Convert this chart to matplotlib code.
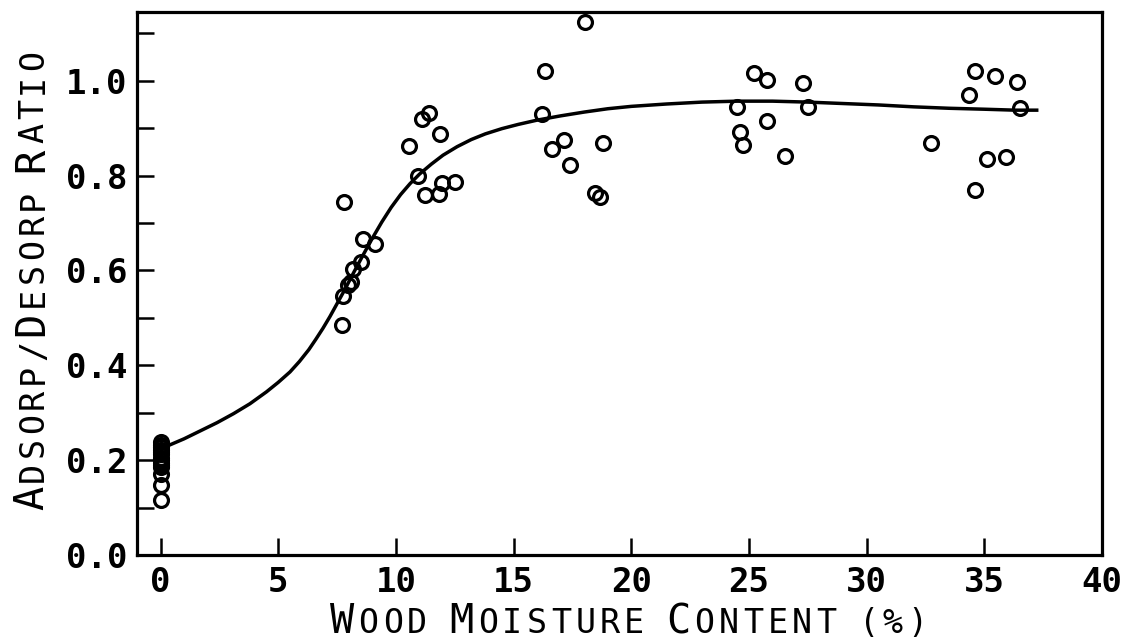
import matplotlib
matplotlib.use('Agg')
import matplotlib.pyplot as plt
import matplotlib.ticker as mticker
from matplotlib.transforms import IdentityTransform

moisture = [0.0, 0.0, 0.0, 0.0, 0.0, 0.0, 0.0, 0.0, 0.0, 0.0, 0.0, 0.0, 0.0, 0.0,
            7.70, 7.76, 7.80, 7.97, 8.10, 8.18, 8.50, 8.61, 9.13,
            10.57, 10.95, 11.10, 11.41, 11.89, 11.22, 11.81, 11.95, 12.50,
            16.35, 16.21, 16.63, 17.13, 17.38, 18.05, 18.79, 18.48, 18.69,
            24.51, 24.62, 24.73, 25.22, 25.78, 25.78, 26.53, 27.30, 27.53,
            32.74, 34.37, 34.62, 34.62, 35.12, 35.45, 35.90, 36.40, 36.50]
ratio = [0.115, 0.148, 0.170, 0.185, 0.190, 0.195, 0.200, 0.205, 0.212, 0.218,
         0.222, 0.228, 0.233, 0.238,
         0.486, 0.547, 0.745, 0.570, 0.575, 0.604, 0.617, 0.667, 0.655,
         0.862, 0.800, 0.920, 0.933, 0.887, 0.759, 0.762, 0.784, 0.786,
         1.020, 0.929, 0.857, 0.876, 0.822, 1.123, 0.868, 0.764, 0.754,
         0.945, 0.891, 0.865, 1.016, 1.001, 0.916, 0.841, 0.995, 0.944,
         0.868, 0.969, 1.021, 0.770, 0.836, 1.009, 0.840, 0.998, 0.943]

# fitted curve
fit_x = [0.2, 1.0, 1.7, 2.4, 3.1, 3.8, 4.5, 5.0, 5.5, 5.9, 6.3, 6.6, 6.9, 7.2,
         7.5, 7.8, 8.2, 8.6, 9.0, 9.4, 9.8, 10.2, 10.6, 11.0, 11.5, 12.0, 12.6,
         13.2, 13.8, 14.5, 15.2, 16.0, 17.0, 18.0, 19.0, 20.0, 21.5, 23.0, 24.5,
         26.0, 27.5, 29.0, 30.5, 32.0, 33.5, 35.0, 36.3, 37.3]
fit_y = [0.228, 0.245, 0.262, 0.279, 0.298, 0.319, 0.344, 0.364, 0.386, 0.408,
         0.433, 0.455, 0.478, 0.503, 0.530, 0.557, 0.595, 0.632, 0.668, 0.702,
         0.733, 0.760, 0.783, 0.803, 0.824, 0.843, 0.861, 0.876, 0.888, 0.899,
         0.908, 0.917, 0.926, 0.934, 0.941, 0.946, 0.951, 0.955, 0.957, 0.957,
         0.955, 0.952, 0.949, 0.945, 0.942, 0.940, 0.938, 0.938]

x_ticks = [0, 5, 10, 15, 20, 25, 30, 35, 40]
y_ticks = [0.0, 0.2, 0.4, 0.6, 0.8, 1.0]

MONO = 'DejaVu Sans Mono'

fig = plt.figure(figsize=(11.31, 6.41), dpi=100)
ax = fig.add_axes([137 / 1131, 1 - 555 / 641, (1102 - 137) / 1131, (555 - 12) / 641])

ax.plot(fit_x, fit_y, color='black', linewidth=2.5, solid_capstyle='butt',
        solid_joinstyle='round', zorder=2)
ax.plot(moisture, ratio, linestyle='none', marker='o', markersize=10,
        markerfacecolor='none', markeredgecolor='black', markeredgewidth=2.3,
        clip_on=False, zorder=3)

ax.set_xlim(-1.0, 40)
ax.set_ylim(0, 1.145)
ax.set_xticks(x_ticks)
ax.set_yticks(y_ticks)
ax.yaxis.set_minor_locator(mticker.MultipleLocator(0.1))
ax.xaxis.set_major_formatter(mticker.FormatStrFormatter('%d'))
ax.yaxis.set_major_formatter(mticker.FormatStrFormatter('%.1f'))
ax.tick_params(which='both', direction='in', length=12.5, width=1.8,
               top=False, right=False, pad=8, labelsize=24.5)
ax.tick_params(axis='y', which='major', pad=7)
for lab in ax.get_xticklabels() + ax.get_yticklabels():
    lab.set_family(MONO)
    lab.set_weight('bold')
for s in ax.spines.values():
    s.set_linewidth(2.3)


def small_caps(parts, x0, y0, rotation=0, spacing=4.2, gap=14):
    # draw big/small capitals one glyph at a time, positions in pixels
    r = fig.canvas.get_renderer()
    pos = x0 if rotation == 0 else y0
    for text, size in parts:
        if text == ' ':
            pos += gap
            continue
        for ch in text:
            if rotation == 0:
                t = fig.text(pos, y0, ch, fontsize=size, family=MONO,
                             transform=IdentityTransform(), ha='left', va='baseline')
                pos += t.get_window_extent(r).width + spacing
            else:
                t = fig.text(x0, pos, ch, fontsize=size, family=MONO, rotation=90,
                             rotation_mode='anchor', transform=IdentityTransform(),
                             ha='left', va='baseline')
                pos += t.get_window_extent(r).height + spacing


BIG, SMALL = 29, 24
small_caps([('W', BIG), ('OOD', SMALL), (' ', 0), ('M', BIG), ('OISTURE', SMALL),
            (' ', 0), ('C', BIG), ('ONTENT', SMALL), (' ', 0), ('(%)', SMALL)],
           330, 641 - 633, gap=18)
small_caps([('A', BIG), ('DSORP', SMALL), ('/', SMALL), ('D', BIG), ('ESORP', SMALL),
            (' ', 0), ('R', BIG), ('ATIO', SMALL)],
           43, 641 - 510, rotation=90)

fig.savefig('out.png', dpi=100)
